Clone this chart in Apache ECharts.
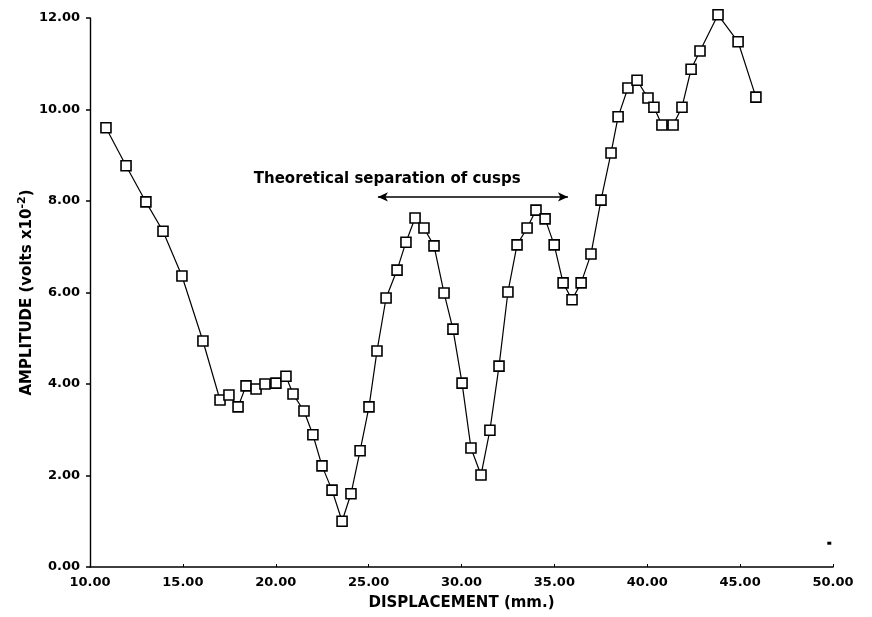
<!DOCTYPE html>
<html>
<head>
<meta charset="utf-8">
<script src="https://cdn.jsdelivr.net/npm/echarts@6/dist/echarts.min.js"></script>
<style>html,body{margin:0;padding:0;background:#fff;}#c{width:872px;height:617px;}</style>
</head>
<body>
<div id="c"></div>
<script>
// Displacement (mm.)
var displacement = [10.86, 11.94, 13.01, 13.93, 14.95, 16.08, 17.00, 17.48, 17.97, 18.40, 18.94, 19.42, 20.01, 20.55, 20.93, 21.52, 22.00, 22.49, 23.03, 23.57, 24.05, 24.54, 25.02, 25.45, 25.94, 26.53, 27.01, 27.50, 27.98, 28.52, 29.06, 29.54, 30.03, 30.51, 31.05, 31.53, 32.02, 32.50, 32.99, 33.53, 34.01, 34.50, 34.99, 35.47, 35.95, 36.44, 36.97, 37.51, 38.05, 38.43, 38.96, 39.45, 40.04, 40.36, 40.79, 41.39, 41.87, 42.36, 42.84, 43.81, 44.89, 45.85];
// Amplitude (volts x10^-2)
var amplitude = [9.60, 8.77, 7.98, 7.34, 6.36, 4.94, 3.65, 3.76, 3.50, 3.96, 3.89, 4.00, 4.02, 4.17, 3.78, 3.41, 2.89, 2.21, 1.68, 1.00, 1.60, 2.54, 3.50, 4.72, 5.88, 6.49, 7.10, 7.63, 7.41, 7.02, 5.99, 5.20, 4.02, 2.60, 2.01, 2.99, 4.39, 6.01, 7.04, 7.41, 7.80, 7.61, 7.04, 6.21, 5.84, 6.21, 6.84, 8.02, 9.05, 9.84, 10.47, 10.64, 10.25, 10.05, 9.66, 9.66, 10.05, 10.88, 11.28, 12.07, 11.48, 10.27];
// stray mark near bottom right
var strayPoint = [[49.8, 0.52]];
// annotation: theoretical separation of cusps
var arrowStart = [25.5, 8.09];
var arrowEnd = [35.73, 8.09];
var annotationText = 'Theoretical separation of cusps';
var annotationPos = [26.0, 8.48];
var xTicks = {min: 10, max: 50, interval: 5};
var yTicks = {min: 0, max: 12, interval: 2};

var seriesData = displacement.map(function (x, i) { return [x, amplitude[i]]; });
var font = 'DejaVu Sans';

var chart = echarts.init(document.getElementById('c'), null, {renderer: 'canvas'});
chart.setOption({
  backgroundColor: '#ffffff',
  animation: false,
  grid: {left: 90, right: 39, top: 18, bottom: 50, containLabel: false},
  xAxis: {
    type: 'value', min: xTicks.min, max: xTicks.max, interval: xTicks.interval,
    name: 'DISPLACEMENT (mm.)', nameLocation: 'middle', nameGap: 29, nameMoveOverlap: false,
    nameTextStyle: {fontFamily: font, fontWeight: 'bold', fontSize: 15, color: '#000'},
    axisLine: {lineStyle: {color: '#000', width: 1.6}},
    axisTick: {show: true, inside: true, length: 3, lineStyle: {color: '#000', width: 1}},
    axisLabel: {fontFamily: font, fontWeight: 'bold', fontSize: 13, color: '#000', margin: 9,
      formatter: function (v) { return v.toFixed(2); }},
    splitLine: {show: false}
  },
  yAxis: {
    type: 'value', min: yTicks.min, max: yTicks.max, interval: yTicks.interval,
    name: 'AMPLITUDE (volts x10{sup|-2})', nameLocation: 'middle', nameGap: 53, nameMoveOverlap: false,
    nameTextStyle: {fontFamily: font, fontWeight: 'bold', fontSize: 15, color: '#000',
      rich: {sup: {fontFamily: font, fontWeight: 'bold', fontSize: 11, color: '#000', verticalAlign: 'top', padding: [0, 0, 9, 0]}}},
    axisLine: {show: true, lineStyle: {color: '#000', width: 1.4}},
    axisTick: {show: true, inside: false, length: 4, lineStyle: {color: '#000', width: 1.5}},
    axisLabel: {fontFamily: font, fontWeight: 'bold', fontSize: 13, color: '#000', margin: 10,
      formatter: function (v) { return v.toFixed(2); }},
    splitLine: {show: false}
  },
  series: [
    {
      type: 'line', data: seriesData, clip: false,
      symbol: 'rect', symbolSize: 10, showAllSymbol: true,
      lineStyle: {color: '#000', width: 1.2},
      itemStyle: {color: '#fff', borderColor: '#000', borderWidth: 1.6},
      z: 3
    },
    {
      type: 'scatter', data: strayPoint, symbol: 'rect', symbolSize: [4, 3],
      itemStyle: {color: '#000', opacity: 1}, silent: true
    },
    {
      type: 'scatter', data: [annotationPos], symbolSize: 0, silent: true,
      itemStyle: {opacity: 1},
      label: {show: true, position: 'inside', formatter: annotationText,
        fontFamily: font, fontWeight: 'bold', fontSize: 15, color: '#000', textBorderWidth: 0},
      markLine: {
        silent: true, symbol: ['arrow', 'arrow'], symbolSize: [7, 10],
        lineStyle: {color: '#000', width: 1.5, type: 'solid', opacity: 1},
        label: {show: false},
        data: [[{coord: arrowStart}, {coord: arrowEnd}]]
      }
    }
  ]
});
</script>
</body>
</html>
